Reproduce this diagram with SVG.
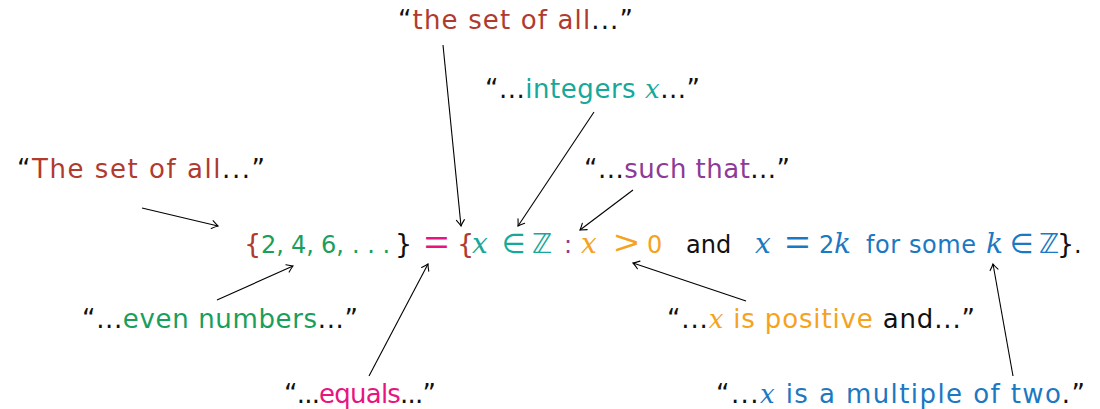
<svg xmlns="http://www.w3.org/2000/svg" width="1100" height="409" viewBox="0 0 1100 409">
<defs>
<marker id="ah" markerUnits="userSpaceOnUse" markerWidth="14" markerHeight="14" viewBox="-8 -7 10 14" refX="0" refY="0" orient="auto">
<path d="M -6 -4 Q -2 -1 0 0 Q -2 1 -6 4" fill="none" stroke="#000" stroke-width="1.1" stroke-linecap="round"/>
</marker>
<style>
text{font-family:"DejaVu Sans",sans-serif;font-size:24px;fill:#111}
.lbl{font-size:26px}
.m{font-family:"DejaVu Serif",serif;font-style:italic;font-size:28px}
.lbl .m{font-size:26px}
.big{font-family:"Liberation Sans",sans-serif;font-size:34px}
.mid{font-size:27px}
.red{fill:#b03a2e}.grn{fill:#1a9e5c}.teal{fill:#17a89a}.pur{fill:#8e3a96}
.org{fill:#f5a31f}.mag{fill:#e8157f}.blu{fill:#1b78c2}.blk{fill:#111}
line{stroke:#000;stroke-width:1.1;marker-end:url(#ah)}
</style>
</defs>
<g id="connectors">
<line x1="142" y1="208" x2="218" y2="226"/>
<line x1="443" y1="45" x2="461" y2="226"/>
<line x1="594" y1="112" x2="518" y2="226"/>
<line x1="633" y1="190" x2="580" y2="230"/>
<line x1="217" y1="300" x2="293" y2="266"/>
<line x1="369" y1="376" x2="428" y2="264"/>
<line x1="746" y1="301" x2="633" y2="263"/>
<line x1="1013" y1="376" x2="993" y2="264"/>
</g>
<g id="equation">
<text x="244" y="253" class="red mid">{</text>
<text x="261" y="253" class="grn">2,</text>
<text x="291" y="253" class="grn">4,</text>
<text x="321" y="253" class="grn">6,</text>
<text x="352" y="253" class="grn">. . .</text>
<text x="395" y="253" class="blk mid">}</text>
<text x="424" y="254" class="mag big" textLength="25" lengthAdjust="spacingAndGlyphs">=</text>
<text x="457" y="253" class="red mid">{</text>
<text x="472" y="253" class="teal m">x</text>
<text x="502" y="253" class="teal mid">∈</text>
<text x="532" y="253" class="teal mid">ℤ</text>
<text x="564" y="253" class="pur">:</text>
<text x="581" y="253" class="org m">x</text>
<text x="614" y="254" class="org big" textLength="25" lengthAdjust="spacingAndGlyphs">&gt;</text>
<text x="647" y="253" class="org">0</text>
<text x="686" y="253" class="blk">and</text>
<text x="755" y="253" class="blu m">x</text>
<text x="785" y="254" class="blu big" textLength="25" lengthAdjust="spacingAndGlyphs">=</text>
<text x="819" y="253" class="blu">2</text>
<text x="834" y="253" class="blu m">k</text>
<text x="866" y="253" class="blu" textLength="110" lengthAdjust="spacing">for some</text>
<text x="986" y="253" class="blu m">k</text>
<text x="1010" y="253" class="blu mid">∈</text>
<text x="1039" y="253" class="blu mid">ℤ</text>
<text x="1057" y="253" class="blk mid">}</text>
<text x="1074" y="253" class="blk">.</text>
</g>
<g id="label-the-set-top"><text class="lbl" x="398" y="29" textLength="235" lengthAdjust="spacing">“<tspan class="red">the set of all</tspan>...”</text></g>
<g id="label-integers"><text class="lbl" x="485" y="98" textLength="215" lengthAdjust="spacing">“...<tspan class="teal">integers </tspan><tspan class="teal m">x</tspan>...”</text></g>
<g id="label-The-set"><text class="lbl" x="17" y="178" textLength="248" lengthAdjust="spacing">“<tspan class="red">The set of all</tspan>...”</text></g>
<g id="label-such-that"><text class="lbl" x="584" y="178" textLength="206" lengthAdjust="spacing">“...<tspan class="pur">such that</tspan>...”</text></g>
<g id="label-even"><text class="lbl" x="82" y="328" textLength="276" lengthAdjust="spacing">“...<tspan class="grn">even numbers</tspan>...”</text></g>
<g id="label-positive"><text class="lbl" x="667" y="328" textLength="308" lengthAdjust="spacing">“...<tspan class="org m">x</tspan><tspan class="org"> is positive</tspan> and...”</text></g>
<g id="label-equals"><text class="lbl" x="284" y="403" textLength="152" lengthAdjust="spacing">“...<tspan class="mag">equals</tspan>...”</text></g>
<g id="label-multiple"><text class="lbl" x="716" y="403" textLength="369" lengthAdjust="spacing">“...<tspan class="blu m">x</tspan><tspan class="blu"> is a multiple of two</tspan>.”</text></g>
</svg>
